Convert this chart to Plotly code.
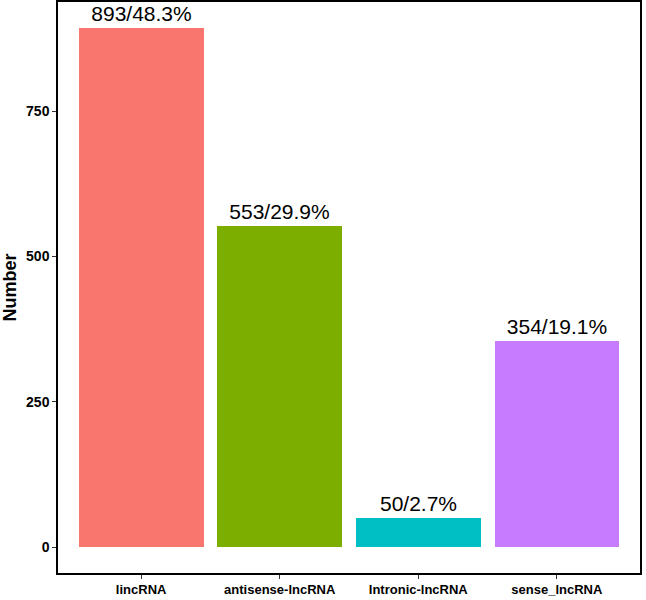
import plotly.graph_objects as go

categories = ["lincRNA", "antisense-lncRNA", "Intronic-lncRNA", "sense_lncRNA"]
counts = [893, 553, 50, 354]
percents = ["48.3%", "29.9%", "2.7%", "19.1%"]
colors = ["#F8766D", "#7CAE00", "#00BFC4", "#C77CFF"]
y_ticks = [0, 250, 500, 750]

labels = [f"{c}/{p}" for c, p in zip(counts, percents)]
xpos = list(range(1, len(categories) + 1))

FONT = "Liberation Sans, Arial, sans-serif"

fig = go.Figure(go.Bar(
    x=xpos, y=counts, width=0.9,
    marker=dict(color=colors, line=dict(width=0)),
    text=labels, textposition="outside", cliponaxis=False,
    textfont=dict(family=FONT, size=21, color="black"),
))

ymax = max(counts)
fig.update_layout(
    width=646, height=600,
    margin=dict(l=58, r=6, t=2, b=27, autoexpand=False),
    paper_bgcolor="white", plot_bgcolor="white",
    showlegend=False,
    font=dict(family=FONT, color="black"),
    bargap=0,
)
fig.update_xaxes(
    range=[0.4, len(categories) + 0.6],
    tickvals=xpos, ticktext=categories,
    showgrid=False, zeroline=False, automargin=False,
    showline=True, linecolor="black", linewidth=1.5, mirror=True,
    ticks="outside", ticklen=4, tickcolor="#333333", tickwidth=1.2,
    tickfont=dict(size=13, family=FONT, color="black", weight="bold"),
)
fig.update_yaxes(
    range=[-0.05 * ymax, 1.05 * ymax],
    tickvals=y_ticks, automargin=False,
    showgrid=False, zeroline=False,
    showline=True, linecolor="black", linewidth=1.5, mirror=True,
    ticks="outside", ticklen=4, tickcolor="#333333", tickwidth=1.2,
    tickfont=dict(size=14, family=FONT, color="black", weight="bold"),
    title=dict(text="Number", standoff=10,
               font=dict(size=18, family=FONT, color="black", weight="bold")),
)
fig.write_html("out.html", config={"displayModeBar": False},
               post_script="document.body.style.margin='0';")
